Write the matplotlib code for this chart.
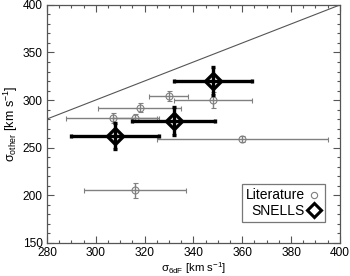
import matplotlib
matplotlib.use("Agg")
import matplotlib.pyplot as plt
from matplotlib.ticker import MultipleLocator
from matplotlib.lines import Line2D

plt.rcParams['font.family'] = ['Liberation Sans', 'DejaVu Sans']
plt.rcParams['mathtext.fontset'] = 'custom'
plt.rcParams['mathtext.rm'] = 'Liberation Sans'
plt.rcParams['mathtext.it'] = 'Liberation Sans'

# Literature values
lit_x = [307, 316, 318, 330, 348, 360, 316]
lit_xerr = [19, 9, 17, 8, 16, 35, 21]
lit_y = [281, 281, 292, 304, 300, 259, 205]
lit_yerr = [5, 4, 5, 5, 8, 3, 8]

# SNELLS values
sn_x = [308, 332, 348]
sn_xerr = [18, 17, 16]
sn_y = [262, 278, 320]
sn_yerr = [14, 15, 15]

xlim = (280, 400)
ylim = (150, 400)

fig = plt.figure(figsize=(3.5, 2.76), dpi=100)
ax = fig.add_axes([0.134, 0.121, 0.837, 0.861])

gray = '#808080'
ax.plot([280, 400], [280, 400], color='#555555', lw=0.8, zorder=1)

ax.errorbar(lit_x, lit_y, xerr=lit_xerr, yerr=lit_yerr, fmt='o', ms=5,
            mfc='none', mec=gray, mew=0.8, ecolor=gray, elinewidth=1.0,
            capsize=1.8, capthick=1.0, zorder=2)
ax.errorbar(sn_x, sn_y, xerr=sn_xerr, yerr=sn_yerr, fmt='D', ms=8,
            mfc='none', mec='black', mew=2.4, ecolor='black', elinewidth=2.4,
            capsize=1.5, capthick=2.4, zorder=3)

ax.set_xlim(*xlim)
ax.set_ylim(*ylim)
ax.xaxis.set_major_locator(MultipleLocator(20))
ax.xaxis.set_minor_locator(MultipleLocator(5))
ax.yaxis.set_major_locator(MultipleLocator(50))
ax.yaxis.set_minor_locator(MultipleLocator(10))
ax.tick_params(which='both', direction='in', top=True, right=True,
               color='#555555', labelsize=8.6)
ax.tick_params(axis='x', pad=3)
ax.tick_params(axis='y', pad=3)
ax.tick_params(which='major', length=5, width=0.8)
ax.tick_params(which='minor', length=2.5, width=0.8)
for s in ax.spines.values():
    s.set_color('#555555')
    s.set_linewidth(0.9)

ax.set_xlabel(r'$\sigma_{\mathrm{6dF}}$ [km s$^{-1}$]', fontsize=8.2, va='bottom')
ax.xaxis.set_label_coords(0.5, -0.1395)
ax.set_ylabel(r'$\sigma_{\mathrm{other}}$ [km s$^{-1}$]', fontsize=9, labelpad=2)

handles = [Line2D([], [], ls='none', marker='o', ms=4.5, mfc='none', mec=gray, mew=0.8),
           Line2D([], [], ls='none', marker='D', ms=7.5, mfc='none', mec='black', mew=2.2)]
leg = ax.legend(handles, ['Literature', 'SNELLS'], loc='lower right',
                bbox_to_anchor=(0.95, 0.087), markerfirst=False, fontsize=10,
                frameon=True, fancybox=False, edgecolor='#555555',
                handlelength=1.0, handletextpad=0.15, borderpad=0.3,
                labelspacing=0.1, borderaxespad=0)
leg.get_frame().set_linewidth(0.9)

fig.savefig('out.png', dpi=100)
